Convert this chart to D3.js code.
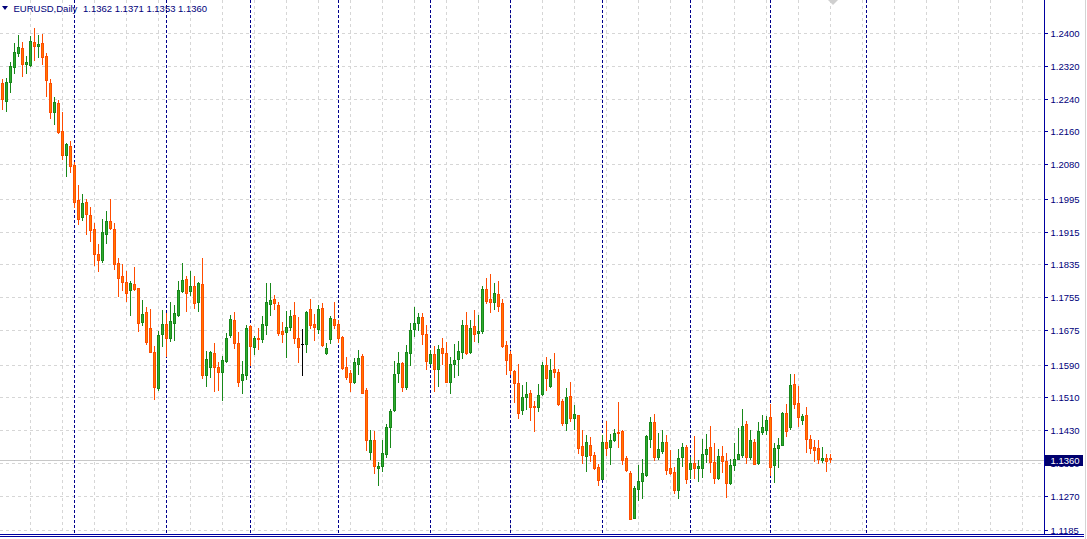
<!DOCTYPE html>
<html>
<head>
<meta charset="utf-8">
<script src="https://cdn.jsdelivr.net/npm/d3@7/dist/d3.min.js"></script>
<style>
  html, body { margin: 0; padding: 0; background: #ffffff; }
  svg { display: block; }
  text { font-family: "Liberation Sans", Arial, sans-serif; }
</style>
</head>
<body>
<svg id="chart" width="1087" height="539"></svg>
<script>
// ---------------- DATA ----------------
const symbol = "EURUSD,Daily";
const lastQuote = ["1.1362", "1.1371", "1.1353", "1.1360"]; // O H L C of the last bar

const opens = [
1.2278,1.2235,1.2282,1.2317,1.2351,1.2363,1.2326,1.2323,1.2378,1.2370,
1.2376,1.2345,1.2278,1.2207,1.2229,1.2160,1.2102,1.2124,1.2077,1.1992,
1.1950,1.1988,1.1955,1.1921,1.1860,1.1845,1.1910,1.1941,1.1921,1.1838,
1.1806,1.1791,1.1772,1.1787,1.1777,1.1695,1.1718,1.1679,1.1620,1.1533,
1.1664,1.1689,1.1656,1.1693,1.1711,1.1771,1.1799,1.1771,1.1782,1.1742,
1.1787,1.1565,1.1583,1.1618,1.1584,1.1571,1.1600,1.1662,1.1699,1.1642,
1.1553,1.1564,1.1684,1.1634,1.1655,1.1652,1.1686,1.1739,1.1750,1.1735,
1.1672,1.1669,1.1681,1.1711,1.1655,1.1640,1.1640,1.1725,1.1689,1.1678,
1.1728,1.1618,1.1652,1.1701,1.1689,1.1658,1.1583,1.1569,1.1548,1.1592,
1.1610,1.1527,1.1376,1.1405,1.1337,1.1343,1.1371,1.1437,1.1478,1.1569,
1.1594,1.1536,1.1618,1.1677,1.1692,1.1706,1.1664,1.1594,1.1615,1.1579,
1.1631,1.1618,1.1548,1.1591,1.1603,1.1622,1.1687,1.1622,1.1684,1.1667,
1.1671,1.1775,1.1750,1.1744,1.1763,1.1741,1.1638,1.1616,1.1575,1.1544,
1.1478,1.1512,1.1521,1.1489,1.1487,1.1518,1.1589,1.1538,1.1579,1.1572,
1.1500,1.1448,1.1513,1.1460,1.1466,1.1390,1.1367,1.1394,1.1369,1.1339,
1.1311,1.1401,1.1388,1.1405,1.1425,1.1427,1.1361,1.1325,1.1216,1.1286,
1.1306,1.1321,1.1409,1.1449,1.1365,1.1380,1.1401,1.1337,1.1328,1.1284,
1.1363,1.1388,1.1336,1.1349,1.1338,1.1338,1.1372,1.1388,1.1352,1.1314,
1.1366,1.1354,1.1300,1.1344,1.1360,1.1369,1.1444,1.1365,1.1401,1.1349,
1.1426,1.1431,1.1461,1.1345,1.1387,1.1394,1.1472,1.1438,1.1542,1.1495,
1.1455,1.1466,1.1408,1.1388,1.1385,1.1358,1.1362,1.1362];

const highs = [
1.2288,1.2291,1.2330,1.2376,1.2396,1.2378,1.2344,1.2393,1.2413,1.2396,
1.2398,1.2351,1.2288,1.2244,1.2236,1.2208,1.2132,1.2137,1.2085,1.2029,
1.2007,1.1994,1.1975,1.1936,1.1886,1.1945,1.1966,1.1994,1.1936,1.1850,
1.1836,1.1820,1.1794,1.1829,1.1778,1.1747,1.1731,1.1726,1.1636,1.1671,
1.1724,1.1716,1.1742,1.1735,1.1794,1.1838,1.1806,1.1818,1.1806,1.1791,
1.1851,1.1623,1.1623,1.1642,1.1597,1.1611,1.1668,1.1711,1.1719,1.1670,
1.1599,1.1687,1.1687,1.1661,1.1679,1.1710,1.1789,1.1790,1.1760,1.1744,
1.1694,1.1722,1.1724,1.1743,1.1707,1.1677,1.1721,1.1750,1.1714,1.1736,
1.1741,1.1642,1.1708,1.1743,1.1699,1.1659,1.1608,1.1577,1.1606,1.1626,
1.1616,1.1533,1.1430,1.1427,1.1351,1.1406,1.1444,1.1482,1.1599,1.1621,
1.1597,1.1638,1.1692,1.1731,1.1717,1.1716,1.1686,1.1626,1.1636,1.1638,
1.1654,1.1645,1.1608,1.1640,1.1648,1.1699,1.1719,1.1699,1.1724,1.1712,
1.1783,1.1801,1.1811,1.1789,1.1794,1.1751,1.1648,1.1623,1.1578,1.1592,
1.1541,1.1548,1.1528,1.1502,1.1543,1.1597,1.1608,1.1603,1.1618,1.1579,
1.1506,1.1533,1.1548,1.1491,1.1468,1.1430,1.1418,1.1413,1.1377,1.1348,
1.1417,1.1452,1.1421,1.1433,1.1499,1.1431,1.1367,1.1330,1.1293,1.1345,
1.1359,1.1419,1.1462,1.1469,1.1422,1.1430,1.1417,1.1381,1.1340,1.1383,
1.1398,1.1393,1.1365,1.1415,1.1358,1.1408,1.1421,1.1441,1.1398,1.1384,
1.1391,1.1373,1.1359,1.1398,1.1436,1.1482,1.1452,1.1430,1.1408,1.1450,
1.1468,1.1464,1.1493,1.1398,1.1411,1.1473,1.1494,1.1566,1.1567,1.1537,
1.1469,1.1486,1.1419,1.1406,1.1406,1.1388,1.1371,1.1371];

const lows = [
1.2215,1.2211,1.2257,1.2302,1.2345,1.2296,1.2304,1.2321,1.2334,1.2342,
1.2326,1.2247,1.2193,1.2179,1.2156,1.2093,1.2052,1.2062,1.1976,1.1935,
1.1944,1.1909,1.1893,1.1834,1.1820,1.1841,1.1888,1.1921,1.1823,1.1759,
1.1772,1.1746,1.1712,1.1772,1.1671,1.1687,1.1640,1.1620,1.1505,1.1528,
1.1636,1.1611,1.1648,1.1649,1.1709,1.1767,1.1721,1.1760,1.1729,1.1721,
1.1558,1.1538,1.1560,1.1526,1.1529,1.1504,1.1597,1.1657,1.1631,1.1538,
1.1521,1.1554,1.1589,1.1616,1.1627,1.1645,1.1664,1.1711,1.1727,1.1662,
1.1645,1.1609,1.1675,1.1643,1.1597,1.1565,1.1622,1.1680,1.1650,1.1667,
1.1636,1.1616,1.1643,1.1680,1.1645,1.1579,1.1555,1.1526,1.1545,1.1568,
1.1520,1.1381,1.1360,1.1325,1.1296,1.1331,1.1364,1.1389,1.1477,1.1548,
1.1526,1.1531,1.1590,1.1659,1.1675,1.1640,1.1580,1.1591,1.1526,1.1538,
1.1592,1.1547,1.1521,1.1560,1.1565,1.1605,1.1615,1.1619,1.1648,1.1646,
1.1667,1.1740,1.1719,1.1727,1.1721,1.1634,1.1567,1.1567,1.1499,1.1460,
1.1469,1.1481,1.1455,1.1427,1.1476,1.1516,1.1528,1.1536,1.1560,1.1492,
1.1443,1.1429,1.1453,1.1433,1.1375,1.1350,1.1331,1.1355,1.1336,1.1296,
1.1310,1.1368,1.1348,1.1404,1.1389,1.1348,1.1330,1.1212,1.1214,1.1258,
1.1265,1.1317,1.1389,1.1356,1.1360,1.1375,1.1323,1.1322,1.1275,1.1263,
1.1343,1.1301,1.1313,1.1314,1.1306,1.1315,1.1351,1.1327,1.1301,1.1311,
1.1327,1.1266,1.1298,1.1332,1.1359,1.1364,1.1350,1.1360,1.1346,1.1347,
1.1420,1.1421,1.1319,1.1304,1.1340,1.1393,1.1416,1.1433,1.1484,1.1441,
1.1445,1.1377,1.1375,1.1355,1.1349,1.1353,1.1331,1.1353];

const closes = [
1.2239,1.2281,1.2319,1.2354,1.2366,1.2324,1.2330,1.2381,1.2368,1.2374,
1.2343,1.2287,1.2207,1.2231,1.2158,1.2102,1.2129,1.2075,1.1988,1.1947,
1.1985,1.1959,1.1918,1.1861,1.1845,1.1914,1.1940,1.1923,1.1835,1.1803,
1.1791,1.1766,1.1789,1.1774,1.1693,1.1715,1.1645,1.1622,1.1536,1.1662,
1.1689,1.1656,1.1696,1.1716,1.1772,1.1796,1.1766,1.1782,1.1741,1.1789,
1.1565,1.1604,1.1620,1.1585,1.1571,1.1601,1.1655,1.1701,1.1644,1.1548,
1.1566,1.1679,1.1636,1.1654,1.1653,1.1689,1.1742,1.1747,1.1741,1.1668,
1.1666,1.1683,1.1708,1.1656,1.1634,1.1640,1.1718,1.1687,1.1682,1.1725,
1.1639,1.1631,1.1703,1.1687,1.1656,1.1582,1.1560,1.1548,1.1596,1.1606,
1.1521,1.1406,1.1405,1.1341,1.1342,1.1373,1.1437,1.1476,1.1566,1.1594,
1.1535,1.1620,1.1674,1.1692,1.1706,1.1666,1.1600,1.1615,1.1579,1.1629,
1.1618,1.1548,1.1591,1.1601,1.1623,1.1687,1.1619,1.1679,1.1664,1.1671,
1.1775,1.1746,1.1744,1.1765,1.1734,1.1636,1.1601,1.1576,1.1544,1.1472,
1.1510,1.1517,1.1487,1.1487,1.1515,1.1589,1.1557,1.1577,1.1571,1.1494,
1.1448,1.1511,1.1460,1.1469,1.1387,1.1370,1.1400,1.1368,1.1338,1.1309,
1.1400,1.1385,1.1405,1.1422,1.1422,1.1358,1.1332,1.1213,1.1288,1.1305,
1.1325,1.1416,1.1449,1.1365,1.1383,1.1401,1.1332,1.1324,1.1284,1.1362,
1.1388,1.1311,1.1350,1.1338,1.1342,1.1371,1.1384,1.1351,1.1312,1.1367,
1.1355,1.1301,1.1344,1.1359,1.1371,1.1440,1.1365,1.1405,1.1348,1.1427,
1.1437,1.1454,1.1339,1.1387,1.1393,1.1471,1.1427,1.1540,1.1494,1.1463,
1.1464,1.1409,1.1386,1.1381,1.1360,1.1362,1.1355,1.1360];

// bars where a new month starts (period separators), incl. one in the shifted future area
const separatorBars = [18, 41, 62, 84, 107, 127, 150, 172, 192, 216];

const yTickLabels = ["1.2400","1.2320","1.2240","1.2160","1.2080","1.1995","1.1915","1.1835",
                     "1.1755","1.1675","1.1590","1.1510","1.1430","1.1350","1.1270","1.1185"];

// ---------------- LAYOUT / STYLE ----------------
const W = 1087, H = 539;
const axisX = 1044.5;
const plotBottom = 534;
const C = {
  bullFill: "#2eaa2e", bullLine: "#18881a",
  bearFill: "#ff7a00", bearLine: "#ff4c00",
  doji: "#000000",
  grid: "#d6d6d6",
  sep: "#00008c",
  axis: "#0000a0",
  text: "#00007a",
  priceLine: "#c8c8c8",
  priceBox: "#00006e"
};

const svg = d3.select("#chart");
const x = d3.scaleLinear().domain([0, 260]).range([2.5, 2.5 + 4 * 260]);
const y = d3.scaleLinear().domain([1.2400, 1.1185]).range([33.3, 530.3]);
const crisp = v => Math.round(v) + 0.5;

const bars = opens.map((o, i) => ({ i, o, h: highs[i], l: lows[i], c: closes[i] }));
const yTicks = yTickLabels.map(Number);

// ---------------- GRID ----------------
const gridG = svg.append("g").attr("shape-rendering", "crispEdges");
gridG.selectAll("line.hg").data(yTicks).join("line")
  .attr("x1", 0).attr("x2", axisX - 1)
  .attr("y1", d => crisp(y(d))).attr("y2", d => crisp(y(d)))
  .attr("stroke", C.grid).attr("stroke-dasharray", "3,3");

const gridBars = d3.range(7, 261, 8).filter(i => x(i) < axisX - 2);
gridG.selectAll("line.vg").data(gridBars).join("line")
  .attr("x1", d => x(d)).attr("x2", d => x(d))
  .attr("y1", 0).attr("y2", plotBottom)
  .attr("stroke", C.grid).attr("stroke-dasharray", "3,3");

// current price line
const yc = crisp(y(+lastQuote[3])) + 1;
svg.append("line")
  .attr("x1", 0).attr("x2", axisX - 1)
  .attr("y1", yc).attr("y2", yc)
  .attr("stroke", C.priceLine).attr("shape-rendering", "crispEdges");

// period separators
svg.append("g").attr("shape-rendering", "crispEdges")
  .selectAll("line").data(separatorBars).join("line")
  .attr("x1", d => x(d)).attr("x2", d => x(d))
  .attr("y1", 0).attr("y2", plotBottom)
  .attr("stroke", C.sep).attr("stroke-dasharray", "3,2");

// ---------------- CANDLES ----------------
const cg = svg.append("g").attr("shape-rendering", "crispEdges");
const cand = cg.selectAll("g").data(bars).join("g");
const colLine = d => d.c > d.o ? C.bullLine : (d.c < d.o ? C.bearLine : C.doji);
const colFill = d => d.c > d.o ? C.bullFill : (d.c < d.o ? C.bearFill : C.doji);

cand.append("line")
  .attr("x1", d => x(d.i)).attr("x2", d => x(d.i))
  .attr("y1", d => Math.round(y(d.h))).attr("y2", d => Math.round(y(d.l)) + 1)
  .attr("stroke", colLine);

cand.each(function(d) {
  const g = d3.select(this);
  const top = Math.round(y(Math.max(d.o, d.c)));
  const bot = Math.round(y(Math.min(d.o, d.c)));
  const cx = x(d.i);
  if (bot - top < 2) {
    g.append("rect")
      .attr("x", cx - 1.5).attr("y", top)
      .attr("width", 3).attr("height", Math.max(1, bot - top + 1))
      .attr("fill", colLine(d));
  } else {
    g.append("rect")
      .attr("x", cx - 1).attr("y", top + 0.5)
      .attr("width", 2).attr("height", bot - top)
      .attr("fill", colFill(d)).attr("stroke", colLine(d)).attr("stroke-width", 1);
  }
});

// ---------------- PRICE AXIS ----------------
const ax = svg.append("g");
ax.append("rect").attr("x", axisX).attr("y", 0).attr("width", W - axisX).attr("height", H).attr("fill", "#ffffff");
ax.append("line").attr("x1", axisX).attr("x2", axisX).attr("y1", 0).attr("y2", plotBottom + 1)
  .attr("stroke", C.axis).attr("shape-rendering", "crispEdges");
ax.selectAll("line.tk").data(yTicks).join("line")
  .attr("x1", axisX).attr("x2", axisX + 3)
  .attr("y1", d => crisp(y(d))).attr("y2", d => crisp(y(d)))
  .attr("stroke", C.axis).attr("shape-rendering", "crispEdges");
// labels; the one hidden behind the current-price box is drawn but clipped below it
ax.selectAll("text.tl").data(yTicks).join("text")
  .attr("x", 1050.5).attr("y", d => crisp(y(d)) + 3.5)
  .attr("font-size", "9.5px").attr("fill", C.text)
  .text((d, i) => yTickLabels[i]);

// current price label
ax.append("rect").attr("x", axisX + 0.5).attr("y", yc - 5.5).attr("width", 38).attr("height", 11)
  .attr("fill", C.priceBox).attr("shape-rendering", "crispEdges");
ax.append("text").attr("x", 1050.5).attr("y", yc + 3.5)
  .attr("font-size", "9.5px").attr("fill", "#ffffff").text(lastQuote[3]);

// bottom border lines and window edge
svg.append("line").attr("x1", 0).attr("x2", 1084).attr("y1", 534.5).attr("y2", 534.5)
  .attr("stroke", C.axis);
svg.append("line").attr("x1", 0).attr("x2", 1084).attr("y1", 536.5).attr("y2", 536.5)
  .attr("stroke", C.axis);
svg.append("line").attr("x1", 1085.5).attr("x2", 1085.5).attr("y1", 0).attr("y2", H)
  .attr("stroke", "#d4d4d4");

// chart shift marker
svg.append("path").attr("d", "M828,0 L838,0 L833,5 Z").attr("fill", "#cfcfcf");

// ---------------- TITLE ----------------
svg.append("path").attr("d", "M2,6 L8,6 L5,10 Z").attr("fill", C.text);
svg.append("text").attr("x", 13.5).attr("y", 11.5).attr("font-size", "9.5px")
  .attr("fill", C.text).text(symbol);
svg.append("text").attr("x", 83).attr("y", 11.5).attr("font-size", "9.5px")
  .attr("fill", C.text).text(lastQuote.join(" "));
</script>
</body>
</html>
